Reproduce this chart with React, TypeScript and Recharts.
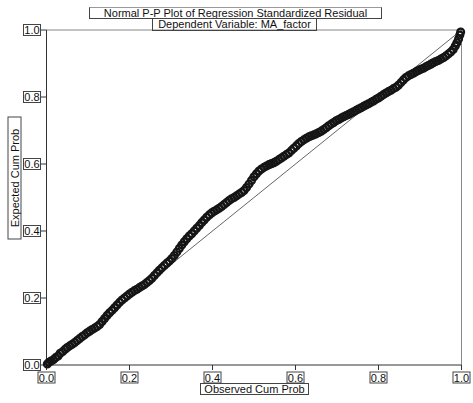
import { ScatterChart, Scatter, XAxis, YAxis, ReferenceLine } from "recharts";

// observed vs expected cumulative probability
const observedCum = [
  0.002, 0.006, 0.011, 0.017, 0.022, 0.028, 0.033, 0.039, 0.045, 0.05, 0.056, 0.062, 0.068, 0.074, 0.08, 0.086,
  0.092, 0.098, 0.104, 0.11, 0.116, 0.122, 0.128, 0.134, 0.14, 0.146, 0.152, 0.158, 0.164, 0.17, 0.176, 0.182,
  0.188, 0.194, 0.2, 0.206, 0.212, 0.218, 0.224, 0.23, 0.236, 0.242, 0.248, 0.254, 0.26, 0.266, 0.272, 0.278,
  0.284, 0.29, 0.296, 0.302, 0.308, 0.314, 0.32, 0.326, 0.332, 0.338, 0.344, 0.35, 0.356, 0.362, 0.368, 0.374,
  0.38, 0.386, 0.392, 0.398, 0.404, 0.41, 0.416, 0.422, 0.428, 0.434, 0.44, 0.446, 0.452, 0.458, 0.464, 0.47,
  0.476, 0.482, 0.488, 0.494, 0.5, 0.506, 0.512, 0.518, 0.524, 0.53, 0.536, 0.542, 0.548, 0.554, 0.56, 0.566,
  0.572, 0.578, 0.584, 0.59, 0.596, 0.602, 0.608, 0.614, 0.62, 0.626, 0.632, 0.638, 0.644, 0.65, 0.656, 0.662,
  0.668, 0.674, 0.68, 0.686, 0.692, 0.698, 0.704, 0.71, 0.716, 0.722, 0.728, 0.734, 0.74, 0.746, 0.752, 0.758,
  0.764, 0.77, 0.776, 0.782, 0.788, 0.794, 0.8, 0.806, 0.812, 0.818, 0.824, 0.83, 0.836, 0.842, 0.848, 0.854,
  0.86, 0.866, 0.872, 0.878, 0.884, 0.89, 0.896, 0.902, 0.908, 0.914, 0.92, 0.926, 0.932, 0.938, 0.944, 0.95,
  0.956, 0.962, 0.968, 0.974, 0.98, 0.985, 0.989, 0.993, 0.996, 0.998,
];

const expectedCum = [
  0.003, 0.008, 0.012, 0.016, 0.022, 0.027, 0.035, 0.04, 0.047, 0.052, 0.057, 0.062, 0.067, 0.073, 0.079, 0.085,
  0.09, 0.096, 0.101, 0.106, 0.11, 0.115, 0.121, 0.13, 0.139, 0.148, 0.156, 0.163, 0.171, 0.179, 0.187, 0.194,
  0.2, 0.206, 0.212, 0.217, 0.222, 0.226, 0.231, 0.236, 0.24, 0.246, 0.252, 0.259, 0.267, 0.275, 0.283, 0.29,
  0.297, 0.304, 0.31, 0.318, 0.327, 0.337, 0.348, 0.358, 0.368, 0.377, 0.385, 0.392, 0.4, 0.408, 0.416, 0.425,
  0.433, 0.441, 0.448, 0.454, 0.459, 0.463, 0.468, 0.473, 0.479, 0.485, 0.491, 0.496, 0.5, 0.505, 0.51, 0.515,
  0.521, 0.53, 0.54, 0.551, 0.562, 0.571, 0.579, 0.585, 0.59, 0.594, 0.598, 0.601, 0.604, 0.608, 0.613, 0.618,
  0.623, 0.628, 0.633, 0.64, 0.647, 0.654, 0.661, 0.667, 0.672, 0.677, 0.681, 0.684, 0.687, 0.69, 0.694, 0.698,
  0.703, 0.708, 0.714, 0.719, 0.724, 0.729, 0.733, 0.737, 0.741, 0.745, 0.748, 0.752, 0.756, 0.76, 0.764, 0.768,
  0.772, 0.776, 0.78, 0.784, 0.788, 0.793, 0.797, 0.802, 0.807, 0.812, 0.816, 0.82, 0.825, 0.829, 0.835, 0.843,
  0.851, 0.858, 0.863, 0.867, 0.871, 0.875, 0.879, 0.883, 0.886, 0.89, 0.894, 0.898, 0.902, 0.906, 0.909, 0.913,
  0.917, 0.922, 0.928, 0.934, 0.942, 0.952, 0.962, 0.973, 0.985, 0.994,
];

const ticks = [0, 0.2, 0.4, 0.6, 0.8, 1.0];

const points = observedCum.map((x, i) => ({ x, y: expectedCum[i] }));

const FONT = "'Liberation Sans', Arial, sans-serif";
const boxStyle = {
  position: "absolute" as const,
  border: "1px solid #444",
  fontFamily: FONT,
  fontSize: 11,
  lineHeight: "11px",
  color: "#111",
  textAlign: "center" as const,
  boxSizing: "border-box" as const,
  whiteSpace: "nowrap" as const,
};

const XTick = (props: any) => {
  const { x, y, payload } = props;
  return (
    <g>
      <rect x={x - 8.5} y={y} width={17} height={11} fill="#fff" stroke="#444" strokeWidth={1} />
      <text x={x} y={y + 9.5} textAnchor="middle" fontSize={11} fontFamily={FONT} fill="#111">
        {payload.value.toFixed(1)}
      </text>
    </g>
  );
};

const YTick = (props: any) => {
  const { x, y, payload } = props;
  return (
    <g>
      <rect x={x - 17} y={y - 5.5} width={17} height={11} fill="#fff" stroke="#444" strokeWidth={1} />
      <text x={x - 8.5} y={y + 4} textAnchor="middle" fontSize={11} fontFamily={FONT} fill="#111">
        {payload.value.toFixed(1)}
      </text>
    </g>
  );
};

const Marker = (props: any) => {
  const { cx, cy } = props;
  return <circle cx={cx} cy={cy} r={3.4} fill="none" stroke="#151515" strokeWidth={2.3} />;
};

export default function App() {
  return (
    <div style={{ position: "absolute", left: 0, top: 0, width: 473, height: 403, background: "#fff" }}>
      <ScatterChart width={473} height={403} margin={{ top: 30, right: 11.5, bottom: 8, left: 6.5 }}>
        <XAxis
          type="number"
          dataKey="x"
          domain={[0, 1]}
          ticks={ticks}
          height={30}
          tickSize={5}
          tickMargin={2}
          stroke="#333"
          tick={<XTick />}
        />
        <YAxis
          type="number"
          dataKey="y"
          domain={[0, 1]}
          ticks={ticks}
          width={40}
          tickSize={6}
          tickMargin={0}
          stroke="#333"
          tick={<YTick />}
        />
        <ReferenceLine y={1} stroke="#888" strokeWidth={1} />
        <ReferenceLine x={1} stroke="#888" strokeWidth={1} />
        <ReferenceLine
          segment={[
            { x: 0, y: 0 },
            { x: 1, y: 1 },
          ]}
          stroke="#666"
          strokeWidth={1}
        />
        <Scatter data={points} shape={<Marker />} isAnimationActive={false} />
      </ScatterChart>

      <div style={{ ...boxStyle, left: 89, top: 7, width: 293, height: 12, borderTopColor: "#999" }}>
        Normal P-P Plot of Regression Standardized Residual
      </div>
      <div style={{ ...boxStyle, left: 152, top: 18, width: 165, height: 13 }}>Dependent Variable: MA_factor</div>
      <div style={{ ...boxStyle, left: 200, top: 383, width: 109, height: 12 }}>Observed Cum Prob</div>
      <div
        style={{
          ...boxStyle,
          left: 14 - 61.5,
          top: 178 - 7,
          width: 123,
          height: 14,
          lineHeight: "12px",
          transform: "rotate(-90deg)",
        }}
      >
        Expected Cum Prob
      </div>
    </div>
  );
}
